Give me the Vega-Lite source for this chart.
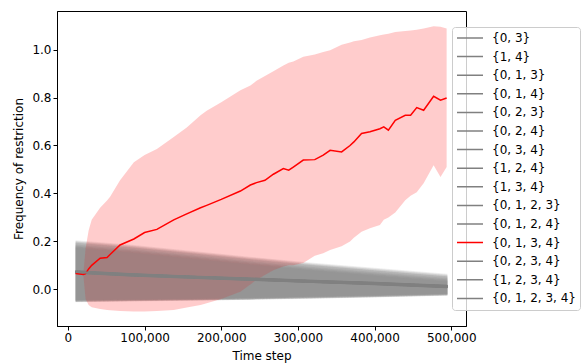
{
  "$schema": "https://vega.github.io/schema/vega-lite/v6.json",
  "width": 409,
  "height": 315,
  "autosize": {"type": "none"},
  "padding": {"left": 57, "top": 11, "right": 120, "bottom": 38},
  "background": "white",
  "config": {
    "font": "DejaVu Sans",
    "view": {"stroke": "black", "strokeWidth": 1},
    "axis": {
      "labelFont": "DejaVu Sans", "labelFontSize": 12, "labelColor": "black",
      "titleFont": "DejaVu Sans", "titleFontSize": 12, "titleFontWeight": "normal", "titleColor": "black",
      "domainColor": "black", "tickColor": "black", "tickSize": 4, "labelPadding": 2, "grid": false
    }
  },
  "data": {"values": [
    {"s":"{0, 3}","t":10000,"m":0.074,"lo":-0.053,"hi":0.202},{"s":"{0, 3}","t":80000,"m":0.063,"lo":-0.050,"hi":0.184},{"s":"{0, 3}","t":160000,"m":0.053,"lo":-0.047,"hi":0.158},{"s":"{0, 3}","t":240000,"m":0.044,"lo":-0.043,"hi":0.132},{"s":"{0, 3}","t":320000,"m":0.035,"lo":-0.038,"hi":0.108},{"s":"{0, 3}","t":400000,"m":0.026,"lo":-0.033,"hi":0.087},{"s":"{0, 3}","t":495000,"m":0.014,"lo":-0.026,"hi":0.062},
    {"s":"{1, 4}","t":10000,"m":0.069,"lo":-0.048,"hi":0.180},{"s":"{1, 4}","t":80000,"m":0.058,"lo":-0.045,"hi":0.162},{"s":"{1, 4}","t":160000,"m":0.048,"lo":-0.042,"hi":0.136},{"s":"{1, 4}","t":240000,"m":0.039,"lo":-0.038,"hi":0.110},{"s":"{1, 4}","t":320000,"m":0.030,"lo":-0.033,"hi":0.086},{"s":"{1, 4}","t":400000,"m":0.021,"lo":-0.028,"hi":0.065},{"s":"{1, 4}","t":495000,"m":0.009,"lo":-0.021,"hi":0.040},
    {"s":"{0, 1, 3}","t":10000,"m":0.073,"lo":-0.051,"hi":0.195},{"s":"{0, 1, 3}","t":80000,"m":0.062,"lo":-0.048,"hi":0.177},{"s":"{0, 1, 3}","t":160000,"m":0.052,"lo":-0.045,"hi":0.151},{"s":"{0, 1, 3}","t":240000,"m":0.043,"lo":-0.041,"hi":0.125},{"s":"{0, 1, 3}","t":320000,"m":0.034,"lo":-0.036,"hi":0.101},{"s":"{0, 1, 3}","t":400000,"m":0.025,"lo":-0.031,"hi":0.080},{"s":"{0, 1, 3}","t":495000,"m":0.013,"lo":-0.024,"hi":0.055},
    {"s":"{0, 1, 4}","t":10000,"m":0.070,"lo":-0.047,"hi":0.175},{"s":"{0, 1, 4}","t":80000,"m":0.059,"lo":-0.044,"hi":0.157},{"s":"{0, 1, 4}","t":160000,"m":0.049,"lo":-0.041,"hi":0.131},{"s":"{0, 1, 4}","t":240000,"m":0.040,"lo":-0.037,"hi":0.105},{"s":"{0, 1, 4}","t":320000,"m":0.031,"lo":-0.032,"hi":0.081},{"s":"{0, 1, 4}","t":400000,"m":0.022,"lo":-0.027,"hi":0.060},{"s":"{0, 1, 4}","t":495000,"m":0.010,"lo":-0.020,"hi":0.035},
    {"s":"{0, 2, 3}","t":10000,"m":0.076,"lo":-0.054,"hi":0.205},{"s":"{0, 2, 3}","t":80000,"m":0.065,"lo":-0.051,"hi":0.187},{"s":"{0, 2, 3}","t":160000,"m":0.055,"lo":-0.048,"hi":0.161},{"s":"{0, 2, 3}","t":240000,"m":0.046,"lo":-0.044,"hi":0.135},{"s":"{0, 2, 3}","t":320000,"m":0.037,"lo":-0.039,"hi":0.111},{"s":"{0, 2, 3}","t":400000,"m":0.028,"lo":-0.034,"hi":0.090},{"s":"{0, 2, 3}","t":495000,"m":0.016,"lo":-0.027,"hi":0.065},
    {"s":"{0, 2, 4}","t":10000,"m":0.072,"lo":-0.050,"hi":0.185},{"s":"{0, 2, 4}","t":80000,"m":0.061,"lo":-0.047,"hi":0.167},{"s":"{0, 2, 4}","t":160000,"m":0.051,"lo":-0.044,"hi":0.141},{"s":"{0, 2, 4}","t":240000,"m":0.042,"lo":-0.040,"hi":0.115},{"s":"{0, 2, 4}","t":320000,"m":0.033,"lo":-0.035,"hi":0.091},{"s":"{0, 2, 4}","t":400000,"m":0.024,"lo":-0.030,"hi":0.070},{"s":"{0, 2, 4}","t":495000,"m":0.012,"lo":-0.023,"hi":0.045},
    {"s":"{0, 3, 4}","t":10000,"m":0.071,"lo":-0.052,"hi":0.198},{"s":"{0, 3, 4}","t":80000,"m":0.060,"lo":-0.049,"hi":0.180},{"s":"{0, 3, 4}","t":160000,"m":0.050,"lo":-0.046,"hi":0.154},{"s":"{0, 3, 4}","t":240000,"m":0.041,"lo":-0.042,"hi":0.128},{"s":"{0, 3, 4}","t":320000,"m":0.032,"lo":-0.037,"hi":0.104},{"s":"{0, 3, 4}","t":400000,"m":0.023,"lo":-0.032,"hi":0.083},{"s":"{0, 3, 4}","t":495000,"m":0.011,"lo":-0.025,"hi":0.058},
    {"s":"{1, 2, 4}","t":10000,"m":0.075,"lo":-0.049,"hi":0.182},{"s":"{1, 2, 4}","t":80000,"m":0.064,"lo":-0.046,"hi":0.164},{"s":"{1, 2, 4}","t":160000,"m":0.054,"lo":-0.043,"hi":0.138},{"s":"{1, 2, 4}","t":240000,"m":0.045,"lo":-0.039,"hi":0.112},{"s":"{1, 2, 4}","t":320000,"m":0.036,"lo":-0.034,"hi":0.088},{"s":"{1, 2, 4}","t":400000,"m":0.027,"lo":-0.029,"hi":0.067},{"s":"{1, 2, 4}","t":495000,"m":0.015,"lo":-0.022,"hi":0.042},
    {"s":"{1, 3, 4}","t":10000,"m":0.068,"lo":-0.052,"hi":0.192},{"s":"{1, 3, 4}","t":80000,"m":0.057,"lo":-0.049,"hi":0.174},{"s":"{1, 3, 4}","t":160000,"m":0.047,"lo":-0.046,"hi":0.148},{"s":"{1, 3, 4}","t":240000,"m":0.038,"lo":-0.042,"hi":0.122},{"s":"{1, 3, 4}","t":320000,"m":0.029,"lo":-0.037,"hi":0.098},{"s":"{1, 3, 4}","t":400000,"m":0.020,"lo":-0.032,"hi":0.077},{"s":"{1, 3, 4}","t":495000,"m":0.008,"lo":-0.025,"hi":0.052},
    {"s":"{0, 1, 2, 3}","t":10000,"m":0.074,"lo":-0.046,"hi":0.178},{"s":"{0, 1, 2, 3}","t":80000,"m":0.063,"lo":-0.043,"hi":0.160},{"s":"{0, 1, 2, 3}","t":160000,"m":0.053,"lo":-0.040,"hi":0.134},{"s":"{0, 1, 2, 3}","t":240000,"m":0.044,"lo":-0.036,"hi":0.108},{"s":"{0, 1, 2, 3}","t":320000,"m":0.035,"lo":-0.031,"hi":0.084},{"s":"{0, 1, 2, 3}","t":400000,"m":0.026,"lo":-0.026,"hi":0.063},{"s":"{0, 1, 2, 3}","t":495000,"m":0.014,"lo":-0.019,"hi":0.038},
    {"s":"{0, 1, 2, 4}","t":10000,"m":0.070,"lo":-0.053,"hi":0.200},{"s":"{0, 1, 2, 4}","t":80000,"m":0.059,"lo":-0.050,"hi":0.182},{"s":"{0, 1, 2, 4}","t":160000,"m":0.049,"lo":-0.047,"hi":0.156},{"s":"{0, 1, 2, 4}","t":240000,"m":0.040,"lo":-0.043,"hi":0.130},{"s":"{0, 1, 2, 4}","t":320000,"m":0.031,"lo":-0.038,"hi":0.106},{"s":"{0, 1, 2, 4}","t":400000,"m":0.022,"lo":-0.033,"hi":0.085},{"s":"{0, 1, 2, 4}","t":495000,"m":0.010,"lo":-0.026,"hi":0.060},
    {"s":"{0, 1, 3, 4}","t":10000,"m":0.066,"lo":0.066,"hi":0.066},{"s":"{0, 1, 3, 4}","t":20000,"m":0.062,"lo":0.062,"hi":0.062},{"s":"{0, 1, 3, 4}","t":23000,"m":0.065,"lo":-0.04,"hi":0.17},{"s":"{0, 1, 3, 4}","t":27000,"m":0.085,"lo":-0.065,"hi":0.245},{"s":"{0, 1, 3, 4}","t":31000,"m":0.10,"lo":-0.075,"hi":0.29},{"s":"{0, 1, 3, 4}","t":42000,"m":0.13,"lo":-0.082,"hi":0.34},{"s":"{0, 1, 3, 4}","t":51000,"m":0.133,"lo":-0.086,"hi":0.37},{"s":"{0, 1, 3, 4}","t":55000,"m":0.145,"lo":-0.087,"hi":0.386},{"s":"{0, 1, 3, 4}","t":68000,"m":0.185,"lo":-0.09,"hi":0.455},{"s":"{0, 1, 3, 4}","t":86000,"m":0.21,"lo":-0.093,"hi":0.53},{"s":"{0, 1, 3, 4}","t":100000,"m":0.237,"lo":-0.092,"hi":0.56},{"s":"{0, 1, 3, 4}","t":116000,"m":0.25,"lo":-0.09,"hi":0.585},{"s":"{0, 1, 3, 4}","t":138000,"m":0.29,"lo":-0.086,"hi":0.635},{"s":"{0, 1, 3, 4}","t":155000,"m":0.315,"lo":-0.076,"hi":0.675},{"s":"{0, 1, 3, 4}","t":173000,"m":0.34,"lo":-0.065,"hi":0.726},{"s":"{0, 1, 3, 4}","t":181000,"m":0.35,"lo":-0.058,"hi":0.745},{"s":"{0, 1, 3, 4}","t":200000,"m":0.375,"lo":-0.04,"hi":0.78},{"s":"{0, 1, 3, 4}","t":225000,"m":0.41,"lo":-0.01,"hi":0.83},{"s":"{0, 1, 3, 4}","t":238000,"m":0.435,"lo":0.02,"hi":0.85},{"s":"{0, 1, 3, 4}","t":246000,"m":0.445,"lo":0.039,"hi":0.87},{"s":"{0, 1, 3, 4}","t":257000,"m":0.455,"lo":0.06,"hi":0.89},{"s":"{0, 1, 3, 4}","t":268000,"m":0.48,"lo":0.08,"hi":0.91},{"s":"{0, 1, 3, 4}","t":281000,"m":0.504,"lo":0.095,"hi":0.934},{"s":"{0, 1, 3, 4}","t":288000,"m":0.497,"lo":0.10,"hi":0.945},{"s":"{0, 1, 3, 4}","t":294000,"m":0.51,"lo":0.10,"hi":0.95},{"s":"{0, 1, 3, 4}","t":307000,"m":0.539,"lo":0.11,"hi":0.97},{"s":"{0, 1, 3, 4}","t":322000,"m":0.541,"lo":0.14,"hi":0.98},{"s":"{0, 1, 3, 4}","t":333000,"m":0.56,"lo":0.15,"hi":0.99},{"s":"{0, 1, 3, 4}","t":342000,"m":0.58,"lo":0.164,"hi":0.997},{"s":"{0, 1, 3, 4}","t":357000,"m":0.573,"lo":0.18,"hi":1.02},{"s":"{0, 1, 3, 4}","t":368000,"m":0.60,"lo":0.20,"hi":1.03},{"s":"{0, 1, 3, 4}","t":373000,"m":0.615,"lo":0.215,"hi":1.035},{"s":"{0, 1, 3, 4}","t":383000,"m":0.65,"lo":0.24,"hi":1.04},{"s":"{0, 1, 3, 4}","t":394000,"m":0.657,"lo":0.255,"hi":1.05},{"s":"{0, 1, 3, 4}","t":407000,"m":0.67,"lo":0.268,"hi":1.06},{"s":"{0, 1, 3, 4}","t":412000,"m":0.678,"lo":0.29,"hi":1.063},{"s":"{0, 1, 3, 4}","t":418000,"m":0.664,"lo":0.30,"hi":1.066},{"s":"{0, 1, 3, 4}","t":427000,"m":0.705,"lo":0.32,"hi":1.073},{"s":"{0, 1, 3, 4}","t":440000,"m":0.726,"lo":0.372,"hi":1.078},{"s":"{0, 1, 3, 4}","t":447000,"m":0.726,"lo":0.39,"hi":1.08},{"s":"{0, 1, 3, 4}","t":455000,"m":0.758,"lo":0.405,"hi":1.083},{"s":"{0, 1, 3, 4}","t":464000,"m":0.747,"lo":0.442,"hi":1.088},{"s":"{0, 1, 3, 4}","t":477000,"m":0.805,"lo":0.518,"hi":1.097},{"s":"{0, 1, 3, 4}","t":486000,"m":0.789,"lo":0.469,"hi":1.095},{"s":"{0, 1, 3, 4}","t":494000,"m":0.798,"lo":0.51,"hi":1.088},
    {"s":"{0, 2, 3, 4}","t":10000,"m":0.073,"lo":-0.048,"hi":0.187},{"s":"{0, 2, 3, 4}","t":80000,"m":0.062,"lo":-0.045,"hi":0.169},{"s":"{0, 2, 3, 4}","t":160000,"m":0.052,"lo":-0.042,"hi":0.143},{"s":"{0, 2, 3, 4}","t":240000,"m":0.043,"lo":-0.038,"hi":0.117},{"s":"{0, 2, 3, 4}","t":320000,"m":0.034,"lo":-0.033,"hi":0.093},{"s":"{0, 2, 3, 4}","t":400000,"m":0.025,"lo":-0.028,"hi":0.072},{"s":"{0, 2, 3, 4}","t":495000,"m":0.013,"lo":-0.021,"hi":0.047},
    {"s":"{1, 2, 3, 4}","t":10000,"m":0.071,"lo":-0.051,"hi":0.194},{"s":"{1, 2, 3, 4}","t":80000,"m":0.060,"lo":-0.048,"hi":0.176},{"s":"{1, 2, 3, 4}","t":160000,"m":0.050,"lo":-0.045,"hi":0.150},{"s":"{1, 2, 3, 4}","t":240000,"m":0.041,"lo":-0.041,"hi":0.124},{"s":"{1, 2, 3, 4}","t":320000,"m":0.032,"lo":-0.036,"hi":0.100},{"s":"{1, 2, 3, 4}","t":400000,"m":0.023,"lo":-0.031,"hi":0.079},{"s":"{1, 2, 3, 4}","t":495000,"m":0.011,"lo":-0.024,"hi":0.054},
    {"s":"{0, 1, 2, 3, 4}","t":10000,"m":0.072,"lo":-0.045,"hi":0.172},{"s":"{0, 1, 2, 3, 4}","t":80000,"m":0.061,"lo":-0.042,"hi":0.154},{"s":"{0, 1, 2, 3, 4}","t":160000,"m":0.051,"lo":-0.039,"hi":0.128},{"s":"{0, 1, 2, 3, 4}","t":240000,"m":0.042,"lo":-0.035,"hi":0.102},{"s":"{0, 1, 2, 3, 4}","t":320000,"m":0.033,"lo":-0.030,"hi":0.078},{"s":"{0, 1, 2, 3, 4}","t":400000,"m":0.024,"lo":-0.025,"hi":0.057},{"s":"{0, 1, 2, 3, 4}","t":495000,"m":0.012,"lo":-0.018,"hi":0.032}
  ]},
  "encoding": {
    "x": {"field": "t", "type": "quantitative", "scale": {"domain": [-14250, 519250], "nice": false, "zero": false},
      "axis": {"title": "Time step", "values": [0, 100000, 200000, 300000, 400000, 500000], "format": ",d", "titlePadding": 7}},
    "color": {"field": "s", "type": "nominal",
      "scale": {
        "domain": ["{0, 3}", "{1, 4}", "{0, 1, 3}", "{0, 1, 4}", "{0, 2, 3}", "{0, 2, 4}", "{0, 3, 4}", "{1, 2, 4}", "{1, 3, 4}", "{0, 1, 2, 3}", "{0, 1, 2, 4}", "{0, 1, 3, 4}", "{0, 2, 3, 4}", "{1, 2, 3, 4}", "{0, 1, 2, 3, 4}"],
        "range": ["#808080", "#808080", "#808080", "#808080", "#808080", "#808080", "#808080", "#808080", "#808080", "#808080", "#808080", "#ff0000", "#808080", "#808080", "#808080"]
      },
      "legend": {
        "title": null, "orient": "none", "legendX": 395, "legendY": 16,
        "symbolType": "stroke", "symbolSize": 676, "symbolStrokeWidth": 1.5, "symbolOpacity": 1,
        "clipHeight": 14, "rowPadding": 4.6, "padding": 4, "labelOffset": 8,
        "labelFont": "DejaVu Sans", "labelFontSize": 12, "labelColor": "black",
        "fillColor": "rgba(255,255,255,0.8)", "strokeColor": "#cccccc", "cornerRadius": 3
      }
    }
  },
  "layer": [
    {
      "mark": {"type": "area"},
      "encoding": {
        "y": {"field": "lo", "type": "quantitative", "scale": {"domain": [-0.153, 1.161], "nice": false, "zero": false},
          "axis": {"title": "Frequency of restriction", "values": [0, 0.2, 0.4, 0.6, 0.8, 1.0], "format": ".1f", "titlePadding": 6}},
        "y2": {"field": "hi"},
        "opacity": {"condition": {"test": "datum.s === '{0, 1, 3, 4}'", "value": 0.2}, "value": 0.12}
      }
    },
    {
      "mark": {"type": "line", "strokeWidth": 1.5},
      "encoding": {
        "y": {"field": "m", "type": "quantitative"}
      }
    }
  ]
}
